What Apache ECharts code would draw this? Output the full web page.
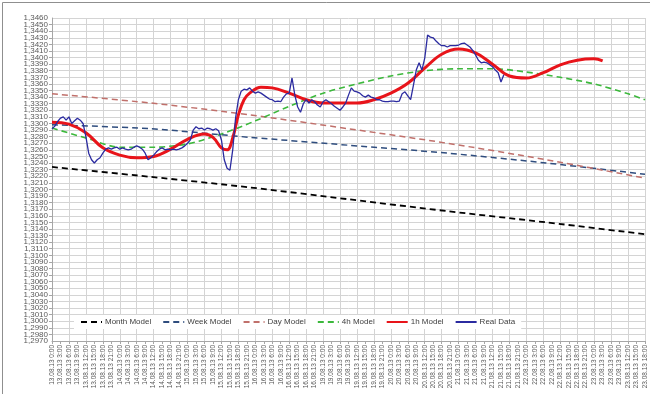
<!DOCTYPE html>
<html><head><meta charset="utf-8">
<script src="https://cdn.jsdelivr.net/npm/echarts@6/dist/echarts.min.js"></script>
<style>html,body{margin:0;padding:0;background:#fff}#c{width:650px;height:394px}</style>
</head><body><div id="c"></div>
<script>
// ---- data ----
const days = ['13.08.13','14.08.13','15.08.13','16.08.13','19.08.13','20.08.13','21.08.13','22.08.13','23.08.13'];
const lastDayHours = 19; // 23.08.13 runs 0:00 .. 18:00
const yMin = 1.2970, yMax = 1.3460, yStep = 0.0010;

// hourly real data starting at 13.08.13 0:00
const realData = [
 1.3292,1.3296,1.3303,1.3308,1.3310,1.3305,1.3310,1.3300,1.3304,1.3308,
 1.3305,1.3300,1.3280,1.3255,1.3245,1.3240,1.3245,1.3248,1.3255,1.3261,
 1.3263,1.3261,1.3263,1.3264,1.3261,1.3263,1.3261,1.3260,1.3261,1.3264,
 1.3266,1.3264,1.3261,1.3255,1.3245,1.3248,1.3252,1.3257,1.3261,1.3263,
 1.3260,1.3261,1.3260,1.3261,1.3260,1.3261,1.3263,1.3266,1.3270,1.3275,
 1.3290,1.3295,1.3292,1.3293,1.3290,1.3293,1.3292,1.3290,1.3292,1.3289,
 1.3275,1.3245,1.3232,1.3229,1.3260,1.3308,1.3336,1.3349,1.3352,1.3351,
 1.3354,1.3349,1.3346,1.3348,1.3346,1.3343,1.3340,1.3337,1.3336,1.3333,
 1.3334,1.3333,1.3340,1.3345,1.3346,1.3369,1.3343,1.3325,1.3317,1.3330,
 1.3336,1.3331,1.3336,1.3333,1.3328,1.3325,1.3333,1.3336,1.3333,1.3330,
 1.3326,1.3323,1.3320,1.3325,1.3331,1.3343,1.3354,1.3349,1.3348,1.3346,
 1.3342,1.3340,1.3343,1.3340,1.3339,1.3336,1.3336,1.3334,1.3333,1.3333,
 1.3334,1.3334,1.3333,1.3334,1.3345,1.3348,1.3342,1.3336,1.3358,1.3381,
 1.3392,1.3381,1.3399,1.3434,1.3431,1.3430,1.3425,1.3421,1.3418,1.3418,
 1.3416,1.3418,1.3418,1.3418,1.3419,1.3421,1.3422,1.3419,1.3416,1.3411,
 1.3404,1.3396,1.3392,1.3393,1.3392,1.3389,1.3386,1.3381,1.3377,1.3363,
 1.3374
];
// model curves as [hour index, value]
const monthModel = [[0,1.3234],[35,1.3219],[70,1.3203],[105,1.3185],[140,1.3167],[175,1.3150],[210,1.3132]];
const weekModel  = [[0,1.3298],[35,1.3292],[70,1.3279],[105,1.3267],[140,1.3255],[175,1.3240],[210,1.3223]];
const dayModel   = [[0,1.3345],[35,1.3331],[70,1.3313],[105,1.3292],[140,1.3270],[175,1.3245],[210,1.3217]];
const h4Model = [[0,1.3293],[12,1.3278],[24,1.3264],[36,1.3264],[48,1.3269],[60,1.3284],[72,1.3304],[84,1.3326],
 [96,1.3346],[108,1.3360],[120,1.3372],[132,1.3380],[144,1.3383],[156,1.3383],[168,1.3378],[180,1.3370],
 [192,1.3360],[204,1.3345],[210,1.3336]];
const h1Model = [[0,1.3302],[6,1.3299],[12,1.3286],[18,1.3263],[24,1.3252],[30,1.3248],[36,1.3250],[42,1.3261],
 [48,1.3276],[54,1.3284],[57,1.3279],[60,1.3263],[62,1.3260],[64,1.3278],[66,1.3313],[68,1.3336],[70,1.3346],
 [74,1.3355],[78,1.3354],[84,1.3346],[90,1.3336],[96,1.3331],[108,1.3331],[114,1.3336],[120,1.3346],[126,1.3361],
 [132,1.3384],[138,1.3405],[144,1.3413],[150,1.3407],[156,1.3390],[162,1.3372],[168,1.3369],[174,1.3377],
 [180,1.3389],[186,1.3396],[192,1.3398],[195,1.3395]];
const seriesNames = ['Month Model','Week Model','Day Model','4h Model','1h Model','Real Data'];

// ---- build categories (hourly) ----
const categories = [];
days.forEach((d, i) => {
  const n = (i === days.length - 1) ? lastDayHours : 24;
  for (let h = 0; h < n; h++) categories.push(d + ' ' + h + ':00');
});

const chart = echarts.init(document.getElementById('c'), null, {renderer: 'canvas'});
const font = 'Liberation Sans, Arial, sans-serif';
const fmt = v => v.toFixed(4).replace('.', ',');
const isEnd = v => Math.abs(v - yMin) < 1e-7 || Math.abs(v - yMax) < 1e-7;
function dashed(name, data, color, width) {
  return {name, type: 'line', data, smooth: 0.3, symbol: 'none', showSymbol: false,
    lineStyle: {color, width, type: [6, 4]}, itemStyle: {color}, emphasis: {disabled: true}};
}
const yLabelBase = {fontSize: 8, lineHeight: 6, color: '#595959', margin: 4, fontFamily: font, hideOverlap: false};
chart.setOption({
  animation: false,
  backgroundColor: '#fff',
  textStyle: {fontFamily: font},
  graphic: [{type: 'rect', left: 0, top: 0, shape: {width: 649, height: 393},
    style: {fill: 'none', stroke: '#8f8f8f', lineWidth: 1}, silent: true}],
  grid: {left: 52, right: 5, top: 18, bottom: 53, containLabel: false},
  legend: {
    left: 74, top: 315, itemGap: 11, itemWidth: 21, itemHeight: 8,
    backgroundColor: '#fff', padding: [3, 6],
    itemStyle: {opacity: 0, borderWidth: 0},
    textStyle: {fontSize: 8, color: '#404040', fontFamily: font, padding: [0, 0, 0, -2]},
    data: seriesNames
  },
  xAxis: {
    type: 'category', data: categories, boundaryGap: false,
    axisLine: {lineStyle: {color: '#a6a6a6'}},
    axisTick: {interval: 2, length: 3, lineStyle: {color: '#a6a6a6'}},
    axisLabel: {interval: 2, rotate: 90, fontSize: 6.5, color: '#595959', margin: 4, fontFamily: font},
    splitLine: {show: true, interval: 5, lineStyle: {color: '#d4d4d4', width: 1}}
  },
  yAxis: [{
    type: 'value', min: yMin, max: yMax, interval: yStep,
    axisLine: {show: true, lineStyle: {color: '#a6a6a6'}},
    axisTick: {show: true, length: 3, lineStyle: {color: '#a6a6a6'}},
    axisLabel: Object.assign({}, yLabelBase, {showMinLabel: false, showMaxLabel: false, formatter: fmt}),
    splitLine: {lineStyle: {color: '#d4d4d4', width: 1}}
  }, {
    type: 'value', min: yMin, max: yMax, interval: yStep, position: 'left',
    axisLine: {show: false}, axisTick: {show: false}, splitLine: {show: false},
    axisLabel: Object.assign({}, yLabelBase, {showMinLabel: true, showMaxLabel: true,
      formatter: v => isEnd(v) ? fmt(v) : ''})
  }],
  series: [
    dashed('Month Model', monthModel, '#000000', 1.8),
    dashed('Week Model', weekModel, '#2f4d7e', 1.5),
    dashed('Day Model', dayModel, '#c0706b', 1.5),
    dashed('4h Model', h4Model, '#3cb83c', 1.6),
    {name: '1h Model', type: 'line', data: h1Model, smooth: 0.4, symbol: 'none',
      lineStyle: {color: '#e8141a', width: 3}, itemStyle: {color: '#e8141a'}},
    {name: 'Real Data', type: 'line', data: realData.map((v, i) => [i, v]), symbol: 'none',
      lineStyle: {color: '#2b2ba0', width: 1.3}, itemStyle: {color: '#2b2ba0'}}
  ]
});
</script></body></html>
